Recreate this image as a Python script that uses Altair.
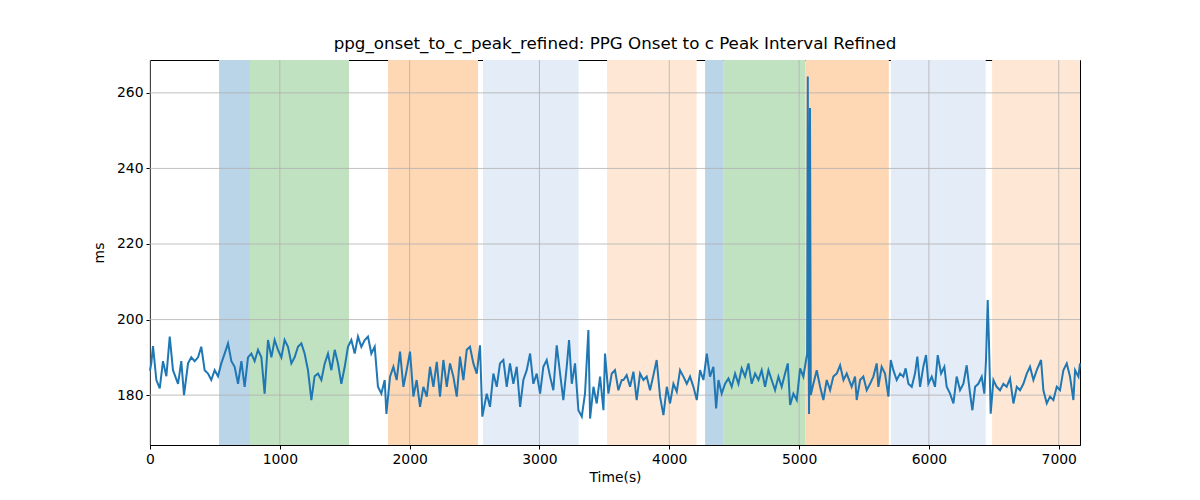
import altair as alt
import pandas as pd

# ---- data ----
times = [
    0, 10, 23, 49, 75, 100, 126, 152, 177, 216, 241, 262, 293, 318, 344, 370, 395, 421, 447, 472,
    498, 524, 549, 575, 601, 627, 652, 678, 704, 729, 755, 781, 806, 832, 858, 883, 909, 935, 960, 986,
    1012, 1037, 1063, 1089, 1114, 1140, 1166, 1191, 1217, 1243, 1268, 1294, 1320, 1346, 1371, 1397, 1423, 1448, 1474, 1500,
    1525, 1551, 1577, 1602, 1628, 1654, 1679, 1705, 1731, 1756, 1782, 1808, 1821,
    1849, 1875, 1900, 1926, 1952, 1977, 2003, 2029, 2054, 2080, 2106, 2132, 2157, 2183, 2209, 2234, 2260, 2286, 2311, 2337,
    2363, 2388, 2414, 2440, 2465, 2491, 2517, 2542, 2560, 2594, 2619, 2645, 2671, 2696, 2722, 2748, 2773, 2799, 2825, 2851,
    2876, 2902, 2928, 2953, 2979, 3005, 3030, 3056, 3082, 3107, 3133, 3159, 3184, 3210, 3228, 3249, 3274, 3300, 3326, 3351,
    3377, 3390, 3416, 3441, 3467, 3493, 3505, 3531, 3557, 3582, 3608, 3634,
    3647, 3672, 3698, 3724, 3749, 3775, 3801, 3826, 3852, 3878, 3903, 3929, 3955, 3981, 4006, 4032, 4058, 4083, 4109, 4135,
    4160, 4186, 4212, 4237, 4263, 4289, 4314, 4340, 4361, 4379, 4404, 4430, 4456, 4481, 4507, 4533, 4558, 4584, 4610, 4635,
    4661, 4687, 4712, 4738, 4764, 4789, 4815, 4841, 4866, 4892, 4913, 4931, 4956, 4982, 5008, 5033, 5054,
    5062, 5067, 5072, 5077, 5084, 5090,
    5110, 5136, 5162, 5187, 5213, 5239, 5264, 5290, 5316, 5342, 5367,
    5405, 5431, 5444, 5470, 5495, 5521, 5547, 5572, 5598, 5611, 5636, 5662, 5688, 5706, 5726, 5752, 5778, 5803, 5821, 5842,
    5868, 5893, 5911, 5932, 5957, 5978, 5996, 6022, 6047, 6068, 6094, 6119, 6137, 6163, 6189, 6214, 6240, 6266, 6291, 6317,
    6335, 6356, 6381, 6407, 6427, 6440, 6453, 6463, 6476, 6497, 6522, 6548, 6574, 6599, 6625, 6651, 6677, 6702, 6728, 6754,
    6779, 6805, 6831, 6864, 6882, 6908, 6933, 6959, 6985, 7010, 7036, 7062, 7087, 7113, 7126, 7152, 7164,
]
values = [
    186.5, 188.4, 193.0, 184.0, 181.8, 189.0, 185.0, 195.5, 186.6, 183.0, 189.0, 180.0, 188.4, 190.0, 189.0, 190.0, 192.8, 186.6, 185.7, 184.0,
    186.6, 185.0, 188.4, 191.0, 193.7, 189.0, 187.5, 183.0, 189.0, 182.2, 190.0, 191.0, 189.0, 192.0, 190.0, 180.4, 194.6, 190.0, 194.6, 192.0,
    190.0, 194.6, 192.8, 188.4, 190.0, 192.8, 193.7, 191.0, 186.6, 178.7, 185.0, 185.7, 184.0, 188.4, 191.0, 186.6, 192.0, 188.4, 183.0, 187.5,
    192.8, 194.6, 191.0, 195.5, 192.8, 194.6, 195.5, 191.0, 192.8, 182.2, 180.4, 184.0, 175.0,
    184.9, 187.5, 184.0, 191.5, 182.2, 186.6, 191.5, 179.6, 184.0, 176.9, 182.2, 179.6, 187.5, 182.2, 188.8, 179.6, 189.3, 182.2, 188.4, 184.9,
    179.6, 190.2, 184.0, 192.0, 192.8, 188.4, 185.7, 193.2, 174.3, 180.4, 176.9, 185.7, 182.2, 188.4, 189.3, 182.2, 188.4, 183.0, 187.5, 176.9,
    184.0, 186.6, 191.0, 183.0, 185.7, 180.4, 187.5, 189.3, 184.9, 181.3, 193.2, 185.7, 178.7, 187.5, 194.6, 183.0, 188.4, 176.0, 174.3, 180.4,
    197.2, 173.8, 182.2, 177.8, 184.9, 176.0, 191.0, 180.4, 185.7, 186.6, 181.3, 184.0,
    184.0, 185.3, 182.2, 186.2, 178.7, 185.7, 184.0, 184.9, 181.3, 185.3, 189.3, 179.6, 174.7, 182.2, 177.8, 183.0, 180.9, 186.6, 184.9, 183.0,
    184.9, 182.2, 178.7, 186.6, 184.0, 191.0, 184.9, 187.5, 176.5, 184.0, 180.4, 183.0, 184.4, 182.2, 185.7, 183.0, 187.1, 184.9, 188.4, 183.0,
    185.7, 184.0, 186.6, 182.2, 186.6, 184.0, 181.3, 184.9, 182.2, 185.7, 188.4, 177.4, 180.4, 178.7, 187.1, 184.9, 189.3,
    191.0, 264.3, 200.0, 175.0, 256.0, 180.0,
    183.0, 186.6, 182.2, 178.7, 184.0, 181.3, 184.9, 185.7, 187.9, 184.0, 185.7,
    182.2, 184.9, 178.7, 184.0, 184.9, 181.3, 183.0, 184.9, 188.4, 182.2, 187.5, 185.7, 179.6, 189.3, 186.6, 184.0, 185.7, 184.9, 187.1, 183.0,
    182.2, 185.7, 190.2, 182.2, 187.5, 190.6, 183.0, 184.9, 182.2, 190.6, 185.7, 187.5, 182.2, 180.4, 177.8, 184.9, 181.3, 183.0, 187.9, 180.4,
    176.0, 182.2, 183.0, 184.9, 180.4, 189.3, 205.2, 193.7, 175.1, 184.0, 182.2, 181.3, 183.0, 182.2, 184.4, 177.8, 182.2, 181.3, 183.0, 185.7,
    187.5, 184.0, 186.6, 189.3, 181.3, 177.8, 179.6, 178.7, 182.2, 181.3, 186.6, 188.4, 184.9, 178.7, 186.6, 184.9, 188.4,
]

band_start = [532, 770, 1834, 2565, 3521, 4276, 4420, 5049, 5707, 6487]
band_end = [770, 1533, 2527, 3302, 4211, 4420, 5049, 5691, 6438, 7164]
band_color = ["#bad4e8", "#c0e2c0", "#fed7b5", "#e4ecf7", "#fee8d5",
              "#bad4e8", "#c0e2c0", "#fed7b5", "#e4ecf7", "#fee8d5"]

x_ticks = [0, 1000, 2000, 3000, 4000, 5000, 6000, 7000]
y_ticks = [180, 200, 220, 240, 260]

title_text = "ppg_onset_to_c_peak_refined: PPG Onset to c Peak Interval Refined"

W, H = 930, 385
FONT = "DejaVu Sans"

line_df = pd.DataFrame({"t": times, "v": values})
band_df = pd.DataFrame({"start": band_start, "end": band_end, "color": band_color})
xg_df = pd.DataFrame({"x": x_ticks})
yg_df = pd.DataFrame({"y": y_ticks})

xscale = alt.Scale(domain=[0, 7164], nice=False, zero=False)
yscale = alt.Scale(domain=[166.8, 268.7], nice=False, zero=False)
xaxis = alt.Axis(values=x_ticks, title="Time(s)", grid=False, format="d", labelFlush=False)
yaxis = alt.Axis(values=y_ticks, title="ms", grid=False, format="d", labelFlush=False)

bands = alt.Chart(band_df).mark_rect(strokeWidth=1, strokeOpacity=0.5).encode(
    x=alt.X("start:Q", scale=xscale, axis=xaxis),
    x2="end:Q",
    y=alt.value(0),
    y2=alt.value(H),
    color=alt.Color("color:N", scale=None),
)

xgrid = alt.Chart(xg_df).mark_rule(color="#b0b0b0", strokeWidth=0.8).encode(
    x=alt.X("x:Q", scale=xscale, axis=xaxis),
)
ygrid = alt.Chart(yg_df).mark_rule(color="#b0b0b0", strokeWidth=0.8).encode(
    y=alt.Y("y:Q", scale=yscale, axis=yaxis),
)

line = alt.Chart(line_df).mark_line(color="#1f77b4", strokeWidth=2).encode(
    x=alt.X("t:Q", scale=xscale, axis=xaxis),
    y=alt.Y("v:Q", scale=yscale, axis=yaxis),
)

chart = alt.layer(bands, xgrid, ygrid, line).properties(
    width=W,
    height=H,
    title=alt.TitleParams(title_text, font=FONT, fontSize=16.7, fontWeight="normal",
                          color="black", offset=7),
    autosize=alt.AutoSizeParams(type="none"),
    padding={"left": 142, "top": 52, "right": 112, "bottom": 47},
).configure_view(
    stroke="black", strokeWidth=1
).configure_axis(
    labelFont=FONT, labelFontSize=13.9, labelColor="black",
    titleFont=FONT, titleFontSize=13.9, titleFontWeight="normal", titleColor="black",
    domainColor="black", tickColor="black", tickSize=4, labelPadding=3,
).configure_axisX(
    titlePadding=5
).configure_axisY(
    titlePadding=10
)

chart.save("out.html", embed_options={"renderer": "svg", "actions": False})
